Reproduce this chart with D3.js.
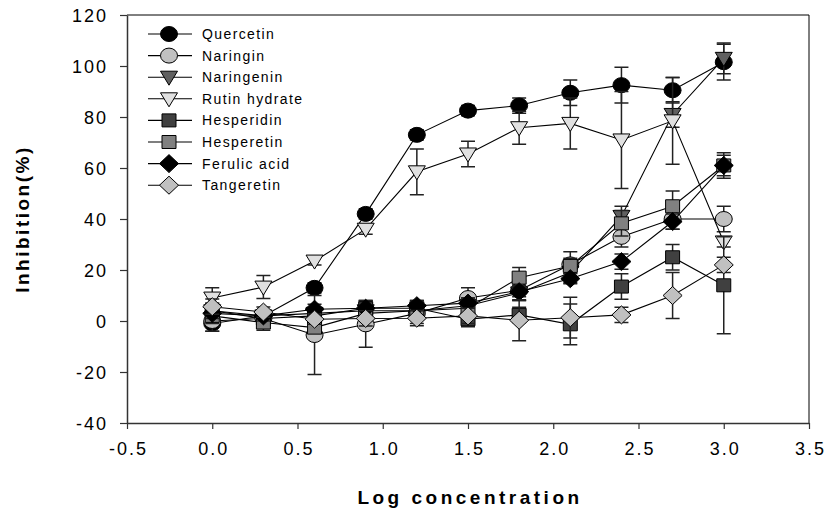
<!DOCTYPE html>
<html>
<head>
<meta charset="utf-8">
<script src="https://d3js.org/d3.v7.min.js"></script>
<style>
  html, body { margin: 0; padding: 0; background: #fff; }
  svg text { font-family: Arial, "Liberation Sans", sans-serif; }
</style>
</head>
<body>
<div id="chart"></div>
<script>
"use strict";
// x values (log concentration) shared by every series
const LOG_CONC = [0, 0.3, 0.6, 0.9, 1.2, 1.5, 1.8, 2.1, 2.4, 2.7, 3.0];

// inhibition (%) and error for each compound
const QUERCETIN      = [-1, 2, 13, 42, 73, 82.5, 84.5, 89.5, 92.5, 90.5, 101.5];
const QUERCETIN_ERR  = [3, 2, 2, 2, 2, 2, 3, 5, 7, 5, 7];
const NARINGIN       = [0, 1, -5.5, -1.3, 3, 9, 12, 22.2, 33, 40, 40];
const NARINGIN_ERR   = [4, 2, 15.5, 9, 4, 4, 4, 5, 4, 4, 5];
const NARINGENIN     = [4, 2, 3, 4, 4, 6, 11, 19, 41, 81, 103];
const NARINGENIN_ERR = [3, 2, 2, 3, 3, 3, 3, 4, 4, 5, 6];
const RUTIN          = [9, 13.3, 23.5, 36, 58.5, 65.5, 75.8, 77.5, 71, 78.5, 31];
const RUTIN_ERR      = [4, 4.5, 1.5, 2, 9, 5, 6.5, 10, 19, 17, 2];
const HESPERIDIN     = [4, 1, 2, 5, 5, 0.7, 2.4, -1.3, 13.5, 25, 14];
const HESPERIDIN_ERR = [3, 2, 2, 3, 3, 3, 3, 8, 5, 5, 19];
const HESPERETIN     = [2, -0.6, -2.6, 3, 4, 5, 17, 21.6, 38.3, 45, 61];
const HESPERETIN_ERR = [3, 3, 2, 3, 3, 3, 4, 3, 5, 6, 5];
const FERULIC        = [3, 2, 4.6, 5, 6, 7, 11.5, 16.6, 23.3, 39, 61];
const FERULIC_ERR    = [2, 2, 2, 3, 2, 2, 2, 2, 3, 3, 4];
const TANGERETIN     = [5.6, 3.5, 0.7, 1, 1.1, 2, 0.3, 1.3, 2.4, 10, 22];
const TANGERETIN_ERR = [3, 2, 2, 3, 3, 3, 8, 8, 3, 9, 3];

const SERIES_NAMES = ["Quercetin", "Naringin", "Naringenin", "Rutin hydrate",
                      "Hesperidin", "Hesperetin", "Ferulic acid", "Tangeretin"];

// tick labels
const X_TICKS = [-0.5, 0, 0.5, 1.0, 1.5, 2.0, 2.5, 3.0, 3.5];
const Y_TICKS = [-40, -20, 0, 20, 40, 60, 80, 100, 120];

const WIDTH = 827, HEIGHT = 514;
const margin = {top: 15, right: 18, bottom: 91, left: 127};

// marker shapes
const SHAPES = {
  circle:  "M-8.5,0 A8.5,7.5 0 1,0 8.5,0 A8.5,7.5 0 1,0 -8.5,0 Z",
  tri:     "M-8.5,-6 L8.5,-6 L0,8 Z",
  square:  "M-7,-6.5 L7,-6.5 L7,6.5 L-7,6.5 Z",
  diamond: "M-9.5,0 L0,-9 L9.5,0 L0,9 Z"
};

const SERIES = [
  {name: SERIES_NAMES[0], values: QUERCETIN,  err: QUERCETIN_ERR,  shape: "circle",  fill: "#000000"},
  {name: SERIES_NAMES[1], values: NARINGIN,   err: NARINGIN_ERR,   shape: "circle",  fill: "#c0c0c0"},
  {name: SERIES_NAMES[2], values: NARINGENIN, err: NARINGENIN_ERR, shape: "tri",     fill: "#606060"},
  {name: SERIES_NAMES[3], values: RUTIN,      err: RUTIN_ERR,      shape: "tri",     fill: "#e0e0e0"},
  {name: SERIES_NAMES[4], values: HESPERIDIN, err: HESPERIDIN_ERR, shape: "square",  fill: "#404040"},
  {name: SERIES_NAMES[5], values: HESPERETIN, err: HESPERETIN_ERR, shape: "square",  fill: "#808080"},
  {name: SERIES_NAMES[6], values: FERULIC,    err: FERULIC_ERR,    shape: "diamond", fill: "#000000"},
  {name: SERIES_NAMES[7], values: TANGERETIN, err: TANGERETIN_ERR, shape: "diamond", fill: "#c0c0c0"}
];

const svg = d3.select("#chart").append("svg")
  .attr("width", WIDTH)
  .attr("height", HEIGHT);

const x = d3.scaleLinear().domain([-0.5, 3.5]).range([margin.left, WIDTH - margin.right]);
const y = d3.scaleLinear().domain([-40, 120]).range([HEIGHT - margin.bottom, margin.top]);

// plain hyphen minus like the original
const hy = f => d => f(d).replace("\u2212", "-");

// frame (top and right)
svg.append("path")
  .attr("d", `M${x(-0.5)},${y(120)} H${x(3.5)} V${y(-40)}`)
  .attr("fill", "none").attr("stroke", "#000").attr("stroke-width", 1);

// axes
const xAxis = svg.append("g")
  .attr("transform", `translate(0,${y(-40)})`)
  .call(d3.axisBottom(x).tickValues(X_TICKS).tickFormat(hy(d3.format(".1f")))
    .tickSizeOuter(0).tickSizeInner(6).tickPadding(13));
const yAxis = svg.append("g")
  .attr("transform", `translate(${x(-0.5)},0)`)
  .call(d3.axisLeft(y).tickValues(Y_TICKS).tickFormat(hy(d3.format("d")))
    .tickSizeOuter(0).tickSizeInner(7).tickPadding(12));

[xAxis, yAxis].forEach(a => {
  a.select(".domain").attr("stroke", "#333").attr("stroke-width", 1.5);
  a.selectAll(".tick line").attr("stroke", "#333").attr("stroke-width", 1.2);
  a.selectAll(".tick text")
    .attr("fill", "#000")
    .style("font-size", "18px")
    .style("letter-spacing", "2px");
});
yAxis.selectAll(".tick text").attr("dy", "0.36em");
xAxis.selectAll(".tick text").attr("dx", "1px");

// axis titles
svg.append("text")
  .attr("x", (x(-0.5) + x(3.5)) / 2 + 2)
  .attr("y", 504)
  .attr("text-anchor", "middle")
  .style("font-size", "19px").style("font-weight", "bold").style("letter-spacing", "3.5px")
  .text("Log concentration");

svg.append("text")
  .attr("transform", `translate(29,${(y(-40) + y(120)) / 2}) rotate(-90)`)
  .attr("text-anchor", "middle")
  .style("font-size", "19px").style("font-weight", "bold").style("letter-spacing", "2.5px")
  .text("Inhibition(%)");

// series: error bars, then line, then markers
const line = d3.line().x((d, i) => x(LOG_CONC[i])).y(d => y(d));

SERIES.forEach(s => {
  const g = svg.append("g");
  const pts = s.values.map((v, i) => ({x: LOG_CONC[i], v: v, e: s.err[i]}));

  g.selectAll("path.err").data(pts).join("path")
    .attr("class", "err")
    .attr("d", d => `M${x(d.x)},${y(d.v - d.e)} V${y(d.v + d.e)}` +
                    ` M${x(d.x) - 7},${y(d.v - d.e)} h14 M${x(d.x) - 7},${y(d.v + d.e)} h14`)
    .attr("fill", "none").attr("stroke", "#222").attr("stroke-width", 1.5);

  g.append("path")
    .attr("d", line(s.values))
    .attr("fill", "none").attr("stroke", "#000").attr("stroke-width", 1.1);

  g.selectAll("path.mk").data(pts).join("path")
    .attr("class", "mk")
    .attr("d", SHAPES[s.shape])
    .attr("transform", d => `translate(${x(d.x)},${y(d.v)})`)
    .attr("fill", s.fill).attr("stroke", "#000").attr("stroke-width", 1);
});

// legend
const legend = svg.append("g").attr("transform", "translate(148,34)");
const rows = legend.selectAll("g").data(SERIES).join("g")
  .attr("transform", (d, i) => `translate(0,${i * 21.6})`);
rows.append("line").attr("x1", 0).attr("x2", 44).attr("y1", 0).attr("y2", 0)
  .attr("stroke", "#000").attr("stroke-width", 1.1);
rows.append("path").attr("d", d => SHAPES[d.shape])
  .attr("transform", "translate(21,0)")
  .attr("fill", d => d.fill).attr("stroke", "#000").attr("stroke-width", 1);
rows.append("text").attr("x", 54).attr("dy", "0.36em")
  .style("font-size", "14px").style("letter-spacing", "1.4px")
  .text(d => d.name);
</script>
</body>
</html>
